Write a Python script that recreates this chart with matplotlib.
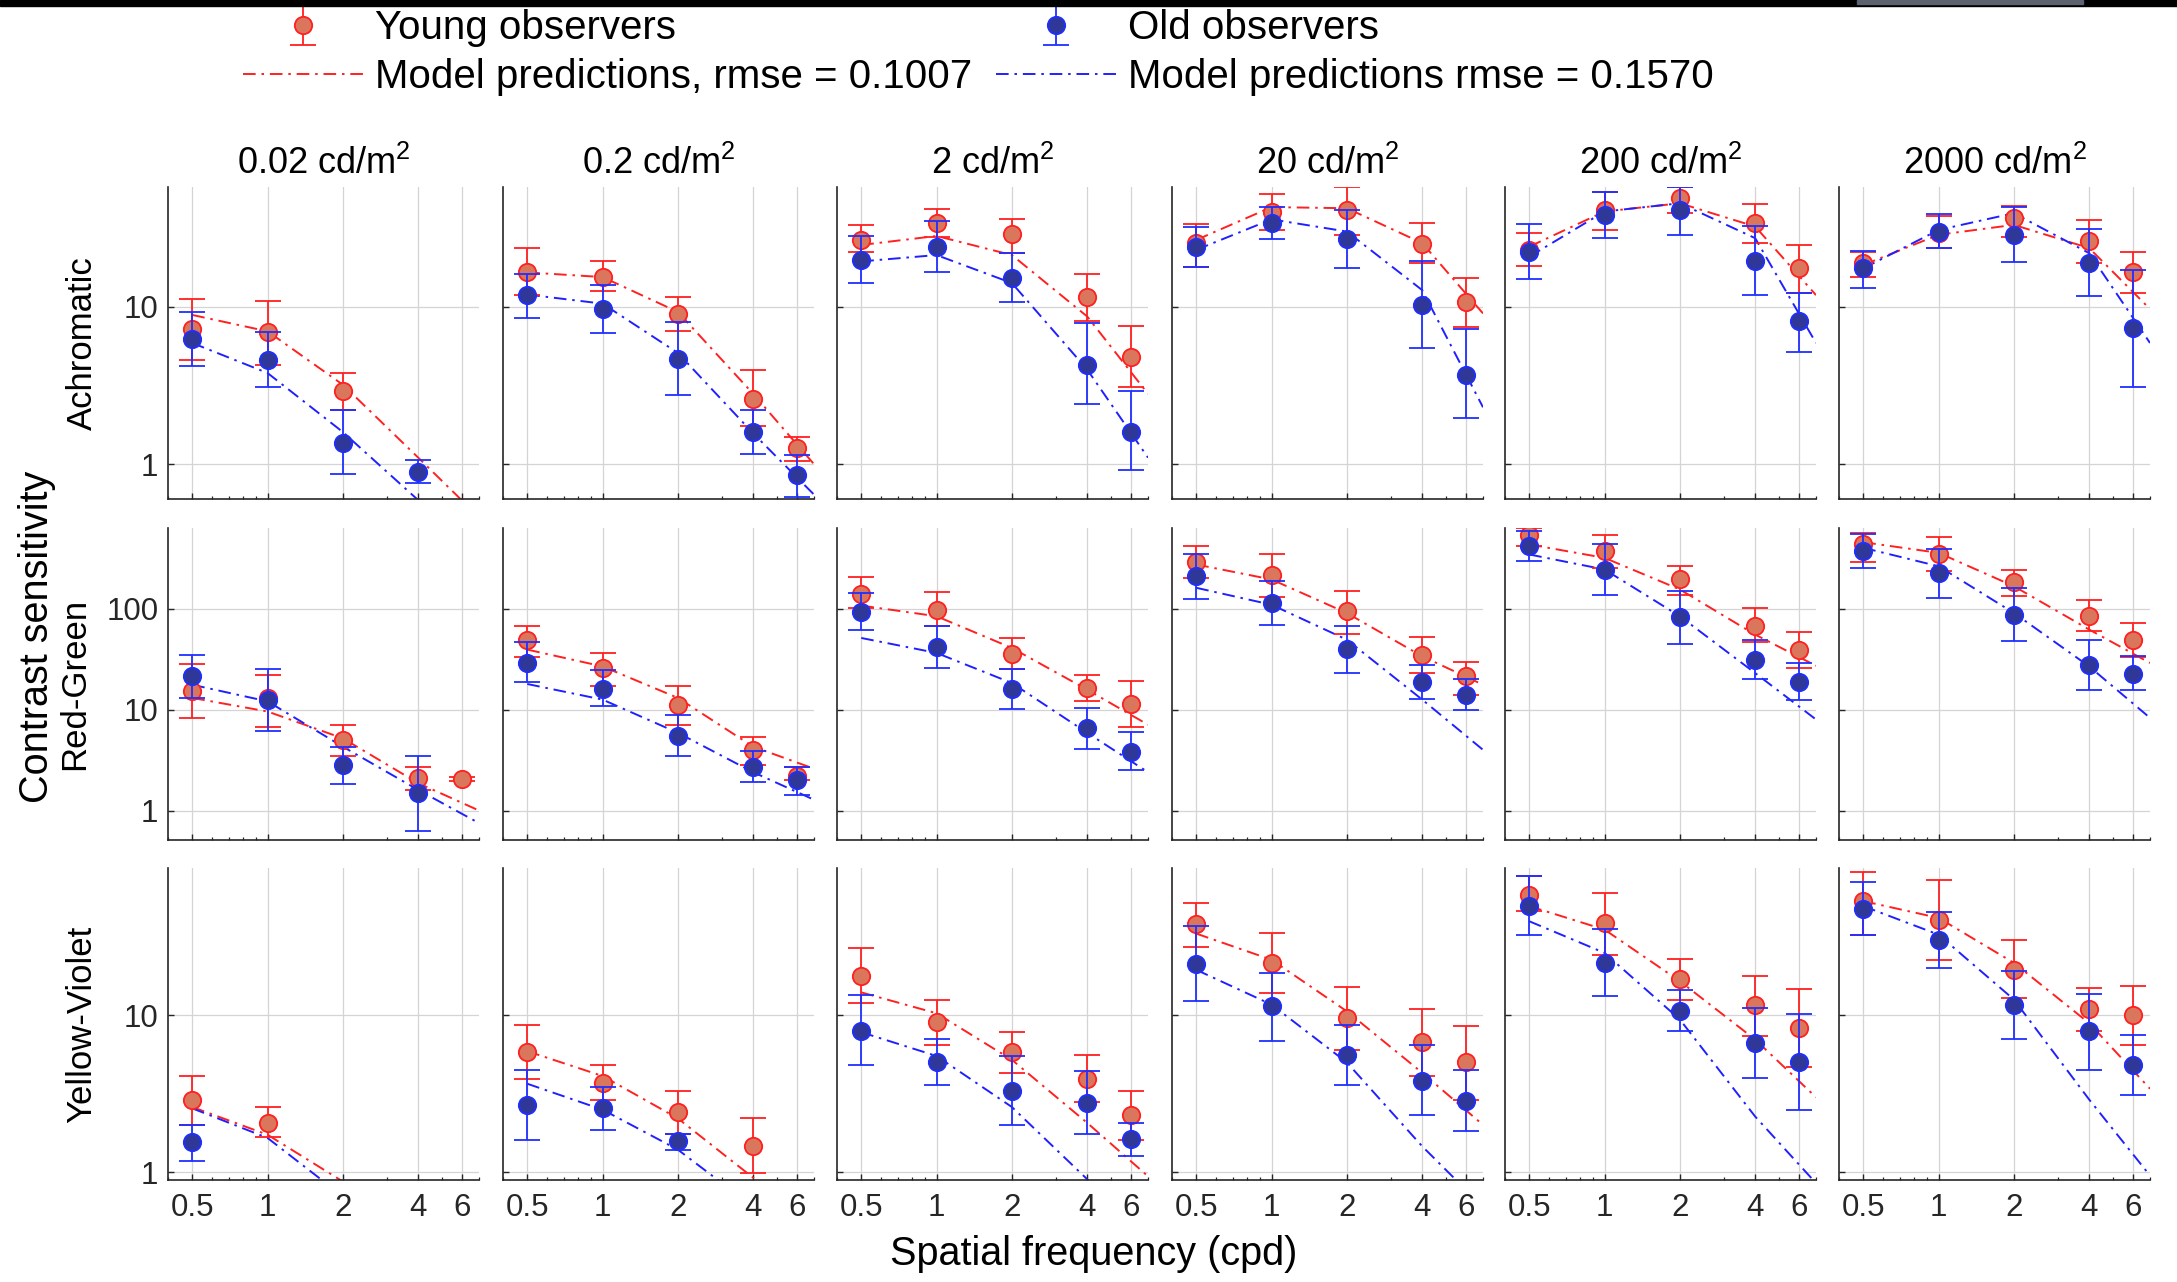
import numpy as np
import matplotlib
matplotlib.use("Agg")
import matplotlib.pyplot as plt
from matplotlib.ticker import NullLocator, LogLocator, NullFormatter, FixedLocator
from matplotlib.patches import Rectangle

plt.rcParams['font.family'] = ['Liberation Sans', 'DejaVu Sans']
plt.rcParams['mathtext.fontset'] = 'custom'
plt.rcParams['mathtext.rm'] = 'Liberation Sans'
plt.rcParams['mathtext.it'] = 'Liberation Sans:italic'

nan = np.nan

# spatial frequencies (cpd) of the measurements and of the model curve samples
freqs = [0.5, 1, 2, 4, 6]
fit_freqs = [0.5, 1, 2, 4, 7]
luminances = ["0.02", "0.2", "2", "20", "200", "2000"]
channels = ["Achromatic", "Red-Green", "Yellow-Violet"]

# ---- Achromatic ----
ach_young = [[7.2, 6.9, 2.9, nan, nan], [16.8, 15.6, 9.0, 2.6, 1.26], [26.7, 34.1, 29.0, 11.5, 4.8],
             [25.5, 40.5, 41.5, 25.2, 10.7], [23.1, 41.5, 49.2, 34.1, 17.6], [19.0, 29.4, 36.7, 26.3, 16.8]]
ach_young_lo = [[4.6, 4.3, 2.2, nan, nan], [12.0, 12.6, 7.0, 1.75, 1.04], [22.5, 28.0, 22.0, 8.1, 3.1],
                [17.9, 30.9, 28.8, 19.0, 7.5], [18.2, 30.9, 39.5, 25.5, 12.2], [15.6, 23.7, 28.0, 19.0, 12.3]]
ach_young_hi = [[11.2, 10.9, 3.8, nan, nan], [23.9, 19.5, 11.6, 4.0, 1.48], [33.3, 41.9, 36.4, 16.1, 7.6],
                [33.7, 52.5, 58.0, 34.1, 15.2], [29.4, 54.0, 58.0, 45.1, 24.8], [22.5, 38.0, 44.0, 35.8, 22.3]]
ach_old = [[6.3, 4.6, 1.37, 0.89, nan], [11.9, 9.7, 4.7, 1.6, 0.85], [19.9, 24.2, 15.2, 4.3, 1.6],
           [24.2, 34.1, 27.0, 10.3, 3.7], [22.5, 38.6, 41.5, 19.7, 8.1], [17.6, 30.2, 28.8, 19.0, 7.3]]
ach_old_lo = [[4.2, 3.1, 0.87, 0.76, nan], [8.5, 6.8, 2.75, 1.16, 0.62], [14.3, 16.7, 10.8, 2.4, 0.92],
              [17.9, 27.1, 17.6, 5.5, 1.97], [15.0, 27.4, 28.8, 11.9, 5.2], [13.3, 23.7, 19.3, 11.8, 3.1]]
ach_old_hi = [[9.3, 6.9, 2.2, 1.06, nan], [16.1, 13.9, 8.0, 2.2, 1.14], [28.3, 35.0, 22.0, 7.9, 2.9],
              [32.5, 43.2, 41.5, 19.5, 7.2], [33.8, 54.0, 58.0, 32.8, 12.2], [22.8, 38.9, 43.5, 31.3, 17.2]]
ach_fit_young = [[8.9, 7.0, 3.2, 1.1, 0.46], [16.6, 15.5, 9.3, 2.8, 1.0], [24.8, 28.3, 21.4, 8.7, 2.8],
                 [26.7, 43.2, 42.5, 25.5, 9.1], [24.2, 40.5, 45.7, 32.5, 11.9], [18.5, 28.8, 33.3, 23.7, 9.7]]
ach_fit_old = [[5.9, 3.8, 1.6, 0.59, 0.26], [12.0, 10.5, 5.1, 1.57, 0.64], [19.5, 21.4, 14.2, 4.0, 1.1],
               [23.1, 36.1, 30.2, 12.8, 2.3], [20.9, 40.5, 45.7, 27.4, 5.9], [17.6, 30.9, 39.5, 22.0, 5.9]]

# ---- Red-Green ----
rg_young = [[15.2, 13.1, 5.0, 2.1, 2.05], [48.9, 25.9, 11.2, 4.0, 2.2], [142, 97, 35.7, 16.4, 11.5],
            [291, 219, 94.8, 34.7, 21.4], [547, 374, 196, 68.2, 39.5], [436, 347, 184, 85.9, 49.5]]
rg_young_lo = [[8.3, 6.8, 3.5, 1.6, 1.95], [33.3, 17.1, 7.0, 2.8, 2.0], [101, 68, 25.4, 12.1, 6.8],
               [203, 131, 56.5, 23.1, 14.1], [420, 255, 139, 46.7, 25.9], [291, 237, 134, 60, 33.3]]
rg_young_hi = [[28.6, 22, 7.0, 2.7, 2.15], [67.3, 36.6, 17.1, 5.4, 2.7], [208, 147, 51.5, 22.3, 19.3],
               [420, 352, 150, 52.7, 29.5], [638, 547, 269, 102, 59.2], [569, 519, 246, 122, 72.6]]
rg_old = [[21.4, 12.6, 2.8, 1.49, nan], [29.1, 16.0, 5.5, 2.7, 2.0], [92.6, 41.6, 16.0, 6.6, 3.8],
          [211, 115, 40.1, 18.7, 14.1], [420, 246, 83.3, 31.4, 18.8], [374, 228, 87.8, 27.5, 22.6]]
rg_old_lo = [[13.1, 6.2, 1.83, 0.62, nan], [18.8, 10.8, 3.5, 1.9, 1.42], [61.4, 25.9, 10.2, 4.1, 2.5],
             [126, 69.8, 23.1, 12.9, 10], [298, 139, 45.3, 20.2, 12.6], [255, 129, 47.7, 15.6, 15.6]]
rg_old_hi = [[34.7, 25.4, 4.3, 3.5, nan], [47, 24.6, 8.8, 3.9, 2.7], [144, 67.3, 25.5, 10.5, 6.0],
             [347, 188, 68.2, 27.5, 20.2], [591, 436, 150, 48.9, 29.1], [560, 394, 162, 48.9, 33.9]]
rg_fit_young = [[13.1, 9.6, 5.2, 1.87, 1.0], [39.5, 26.9, 13.1, 4.3, 2.6], [108, 84.6, 41, 15.8, 7.1],
                [276, 196, 91, 33.9, 17.7], [436, 321, 156, 55.6, 27.3], [459, 360, 168, 62.4, 29.1]]
rg_fit_old = [[17.7, 12.1, 4.3, 1.6, 0.75], [18.0, 12.6, 5.9, 2.4, 1.28], [51.5, 36.6, 18.4, 5.9, 2.4],
              [162, 110, 49.5, 12.6, 4.0], [347, 246, 84.6, 23.1, 8.0], [404, 265, 91.2, 26.9, 8.3]]

# ---- Yellow-Violet ----
yv_young = [[2.9, 2.07, nan, nan, nan], [5.8, 3.7, 2.4, 1.47, nan], [17.9, 9.0, 5.8, 3.9, 2.3],
            [38.5, 21.6, 9.6, 6.8, 5.0], [58.9, 38.8, 17.1, 11.7, 8.3], [53.5, 40.8, 19.5, 10.9, 10.0]]
yv_young_lo = [[2.0, 1.67, nan, nan, nan], [3.9, 2.9, 1.76, 0.99, nan], [11.9, 6.5, 4.3, 2.8, 1.6],
               [27.2, 13.9, 6.0, 4.1, 2.9], [46.1, 24.4, 12.6, 7.4, 4.7], [32.3, 22.6, 12.9, 7.9, 6.5]]
yv_young_hi = [[4.1, 2.6, nan, nan, nan], [8.7, 4.8, 3.3, 2.2, nan], [26.9, 12.6, 7.8, 5.6, 3.3],
               [52.1, 33.6, 15.2, 10.9, 8.6], [77.1, 60.4, 22.9, 17.9, 14.8], [81.8, 72.8, 30.1, 14.9, 15.3]]
yv_old = [[1.55, nan, nan, nan, nan], [2.67, 2.57, 1.57, nan, nan], [7.9, 5.0, 3.3, 2.75, 1.62],
          [21.3, 11.4, 5.6, 3.8, 2.85], [49.7, 21.4, 10.6, 6.7, 5.0], [47.7, 30.4, 11.7, 7.9, 4.8]]
yv_old_lo = [[1.18, nan, nan, nan, nan], [1.6, 1.86, 1.39, nan, nan], [4.8, 3.6, 2.0, 1.76, 1.27],
             [12.3, 6.9, 3.6, 2.3, 1.82], [32.3, 13.2, 7.9, 4.0, 2.5], [32.3, 20.0, 7.1, 4.5, 3.1]]
yv_old_hi = [[2.0, nan, nan, nan, nan], [4.5, 3.5, 1.76, nan, nan], [13.5, 7.1, 5.5, 4.4, 2.07],
             [37.0, 18.6, 8.7, 6.5, 4.5], [77.1, 35.6, 14.5, 11.1, 10.2], [70.6, 45.4, 19.1, 13.7, 7.5]]
yv_fit_young = [[2.6, 1.73, 0.87, 0.4, 0.2], [5.9, 4.1, 2.2, 0.92, 0.4], [14.0, 10.3, 5.2, 2.06, 0.94],
                [33.2, 22.6, 10.6, 4.3, 2.0], [49.7, 35.2, 16.5, 7.0, 3.0], [53.5, 41.8, 21.6, 8.9, 3.4]]
yv_fit_old = [[2.55, 1.65, 0.7, 0.3, 0.15], [3.66, 2.5, 1.39, 0.6, 0.25], [7.8, 5.5, 2.6, 0.9, 0.3],
              [19.5, 11.7, 5.0, 1.46, 0.6], [39.8, 25.0, 9.4, 2.26, 0.85], [49.7, 32.7, 12.6, 2.9, 0.95]]

rows = [
    (ach_young, ach_young_lo, ach_young_hi, ach_old, ach_old_lo, ach_old_hi, ach_fit_young, ach_fit_old),
    (rg_young, rg_young_lo, rg_young_hi, rg_old, rg_old_lo, rg_old_hi, rg_fit_young, rg_fit_old),
    (yv_young, yv_young_lo, yv_young_hi, yv_old, yv_old_lo, yv_old_hi, yv_fit_young, yv_fit_old),
]
ylims = [(0.6, 58), (0.51, 635), (0.89, 87)]
yticks = [[1, 10], [1, 10, 100], [1, 10]]

W, H = 2177, 1282
fig = plt.figure(figsize=(W / 100, H / 100), dpi=100)
col_left = [168, 503, 837, 1172, 1505, 1839]
row_top = [187, 528, 868]
ax_w, ax_h = 311, 312

dash = (0, (6.5, 3, 1.3, 3))
handles = []
for r in range(3):
    yng, yng_lo, yng_hi, old, old_lo, old_hi, fit_y, fit_o = rows[r]
    for c in range(6):
        ax = fig.add_axes([col_left[c] / W, 1 - (row_top[r] + ax_h) / H, ax_w / W, ax_h / H])
        ax.set_xscale('log')
        ax.set_yscale('log')
        ax.set_xlim(0.4, 7.0)
        ax.set_ylim(*ylims[r])
        ax.set_axisbelow(True)

        ly, = ax.plot(fit_freqs, fit_y[c], color='#ff2020', lw=1.4, ls=dash, zorder=2)
        lo_, = ax.plot(fit_freqs, fit_o[c], color='#2020ff', lw=1.4, ls=dash, zorder=2)

        y = np.array(yng[c], dtype=float)
        e1 = ax.errorbar(freqs, y, yerr=[y - np.array(yng_lo[c]), np.array(yng_hi[c]) - y], fmt='o',
                         ms=12.5, mfc='#d9765c', mec='#ff2020', mew=1.3, ecolor='#ff2020',
                         elinewidth=1.3, capsize=9.5, capthick=1.3, zorder=3)
        y = np.array(old[c], dtype=float)
        e2 = ax.errorbar(freqs, y, yerr=[y - np.array(old_lo[c]), np.array(old_hi[c]) - y], fmt='o',
                         ms=12.5, mfc='#2f3898', mec='#1f2fff', mew=1.3, ecolor='#1f2fff',
                         elinewidth=1.3, capsize=9.5, capthick=1.3, zorder=4)
        if r == 0 and c == 0:
            handles = [e1, ly, e2, lo_]

        ax.spines['top'].set_visible(False)
        ax.spines['right'].set_visible(False)
        for s in ('left', 'bottom'):
            ax.spines[s].set_color('#262626')
            ax.spines[s].set_linewidth(1.2)

        ax.set_xticks([0.5, 1, 2, 4, 6])
        ax.xaxis.set_minor_locator(LogLocator(base=10, subs=np.arange(2, 10), numticks=20))
        ax.xaxis.set_minor_formatter(NullFormatter())
        ax.yaxis.set_major_locator(FixedLocator(yticks[r]))
        ax.yaxis.set_minor_locator(NullLocator())
        ax.yaxis.set_minor_formatter(NullFormatter())
        if r == 2:
            ax.set_xticklabels(['0.5', '1', '2', '4', '6'])
        else:
            ax.set_xticklabels([])
        if c == 0:
            ax.set_yticklabels([str(t) for t in yticks[r]])
        else:
            ax.set_yticklabels([])
        ax.tick_params(which='both', direction='in', color='#262626', labelcolor='#262626',
                       labelsize=22.5, top=False, right=False)
        ax.tick_params(which='major', length=4, width=1.0)
        ax.tick_params(which='minor', length=2.5, width=0.9)
        ax.tick_params(axis='x', pad=9)
        ax.tick_params(axis='y', pad=7)
        ax.grid(True, which='major', color='#d4d4d4', lw=0.9)

        if r == 0:
            fig.text((col_left[c] + ax_w / 2) / W, 1 - 174 / H, luminances[c] + r" cd/m$^2$",
                     ha='center', va='baseline', fontsize=26)

# row labels and shared axis labels
fig.text(82 / W, 1 - 343 / H, "Achromatic", rotation=90, ha='center', va='center', fontsize=25)
fig.text(75 / W, 1 - 684 / H, "Red-Green", rotation=90, ha='center', va='center', fontsize=25)
fig.text(82 / W, 1 - 1024 / H, "Yellow-Violet", rotation=90, ha='center', va='center', fontsize=25)
fig.text(37 / W, 1 - 637 / H, "Contrast sensitivity", rotation=90, ha='center', va='center', fontsize=28.5)
fig.text(1094 / W, 1 - 1254 / H, "Spatial frequency (cpd)", ha='center', va='center', fontsize=28.5)

fig.legend(handles=handles,
           labels=["Young observers", "Model predictions, rmse = 0.1007",
                   "Old observers", "Model predictions rmse = 0.1570"],
           ncol=2, loc='upper left', bbox_to_anchor=(243 / W, 1 - 9 / H), frameon=False,
           fontsize=29, handlelength=3.0, handletextpad=0.27, columnspacing=0.6,
           labelspacing=0.28, borderpad=0, borderaxespad=0)

# dark strip along the top edge of the screenshot
fig.patches.append(Rectangle((0, 1 - 6 / H), 1, 6 / H, transform=fig.transFigure,
                             color='black', zorder=10))
fig.patches.append(Rectangle((1857 / W, 1 - 4 / H), 226 / W, 4 / H, transform=fig.transFigure,
                             color='#5c6270', zorder=11))

fig.savefig("out.png", dpi=100)
